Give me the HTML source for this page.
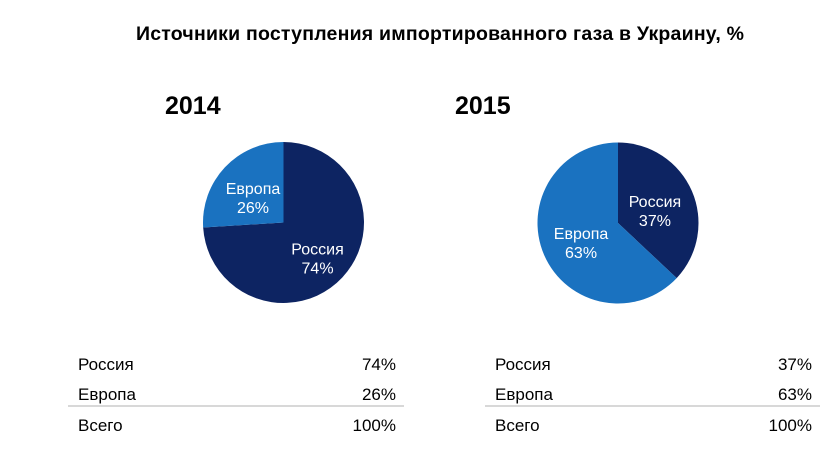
<!DOCTYPE html>
<html><head><meta charset="utf-8"><style>
body{margin:0;background:#fff;width:827px;height:465px;overflow:hidden;font-family:"Liberation Sans",sans-serif}
</style></head><body>
<svg width="827" height="465" font-family="Liberation Sans, sans-serif">
<text x="440" y="40" text-anchor="middle" font-size="19.5" font-weight="bold" textLength="608">Источники поступления импортированного газа в Украину, %</text>
<text x="165" y="114" font-size="25" font-weight="bold">2014</text>
<text x="455" y="114" font-size="25" font-weight="bold">2015</text>
<g id="pies"></g>
<g id="tables"></g>
</svg>
<script>
const years = ["2014", "2015"];
const categories = ["Россия", "Европа"];
const russia = [74, 37];
const europe = [26, 63];
const colors = ["#0d2462", "#1a72c0"];
const ns = "http://www.w3.org/2000/svg";
const pies = document.getElementById("pies");
const tables = document.getElementById("tables");
const centers = [[283.5, 222.5], [618, 223]];
const R = 80.5;
function pt(cx, cy, r, frac){const a = frac*2*Math.PI; return [cx + r*Math.sin(a), cy - r*Math.cos(a)];}
years.forEach((y, i) => {
  const vals = [russia[i], europe[i]];
  const total = vals[0] + vals[1];
  const [cx, cy] = centers[i];
  let start = 0;
  vals.forEach((v, k) => {
    const f0 = start / total, f1 = (start + v) / total;
    const p0 = pt(cx, cy, R, f0), p1 = pt(cx, cy, R, f1);
    const large = (f1 - f0) > 0.5 ? 1 : 0;
    const path = document.createElementNS(ns, "path");
    path.setAttribute("d", `M${cx},${cy} L${p0[0]},${p0[1]} A${R},${R} 0 ${large} 1 ${p1[0]},${p1[1]} Z`);
    path.setAttribute("fill", colors[k]);
    
    
    pies.appendChild(path);
    const mid = (f0 + f1) / 2;
    const lp = pt(cx, cy, R * (v > 70 ? 0.58 : v < 30 ? 0.52 : 0.5), mid);
    const t = document.createElementNS(ns, "text");
    t.setAttribute("x", lp[0]); t.setAttribute("y", lp[1]);
    t.setAttribute("text-anchor", "middle"); t.setAttribute("fill", "#fff"); t.setAttribute("font-size", "16");
    t.innerHTML = `<tspan x="${lp[0]}">${categories[k]}</tspan><tspan x="${lp[0]}" dy="19">${v}%</tspan>`;
    
    
    pies.appendChild(t);
    start += v;
  });
  const x0 = i === 0 ? 78 : 495, x1 = i === 0 ? 396 : 812;
  const rows = [[categories[0], vals[0]], [categories[1], vals[1]], ["Всего", total]];
  const ys = [370, 400, 431];
  rows.forEach((r, k) => {
    const a = document.createElementNS(ns, "text");
    a.setAttribute("x", x0); a.setAttribute("y", ys[k]); a.setAttribute("font-size", "17");
    a.textContent = r[0];
    
    
    tables.appendChild(a);
    const b = document.createElementNS(ns, "text");
    b.setAttribute("x", x1); b.setAttribute("y", ys[k]); b.setAttribute("font-size", "17"); b.setAttribute("text-anchor", "end");
    b.textContent = r[1] + "%";
    
    
    tables.appendChild(b);
  });
  const ln = document.createElementNS(ns, "line");
  ln.setAttribute("x1", x0 - 10); ln.setAttribute("x2", x1 + 8);
  ln.setAttribute("y1", 406); ln.setAttribute("y2", 406);
  ln.setAttribute("stroke", "#b0b0b0"); ln.setAttribute("stroke-width", "1");
  
  
  tables.appendChild(ln);
});
</script>
</body></html>
